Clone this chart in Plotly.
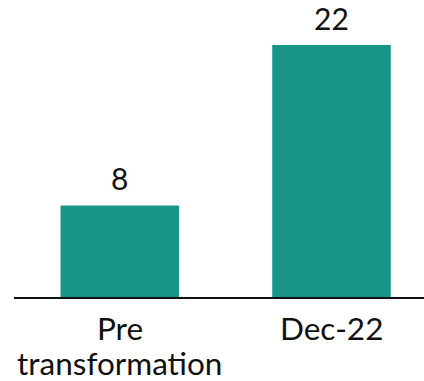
import plotly.graph_objects as go

categories = ["Pre<br>transformation", "Dec-22"]
values = [8, 22]

bar_color = "#1a9688"
text_color = "#111111"
font_family = "Lato, 'Open Sans', sans-serif"
font_size = 31.5
value_font_size = 30
line_step = 35

fig = go.Figure(
    go.Bar(
        x=categories,
        y=values,
        marker=dict(color=bar_color, line=dict(width=0)),
        width=0.56,
        hoverinfo="skip",
    )
)

# value labels above each bar
for cat, val in zip(categories, values):
    fig.add_annotation(
        x=cat, y=val, text=str(val), showarrow=False,
        yanchor="bottom", yshift=8, borderpad=0,
        font=dict(family=font_family, size=value_font_size, color=text_color),
    )

# category labels under the axis, one annotation per line for tight leading
for cat in categories:
    for i, line in enumerate(cat.split("<br>")):
        fig.add_annotation(
            x=cat, xref="x", y=0, yref="paper", text=line, showarrow=False,
            yanchor="middle", yshift=-31 - i * line_step, borderpad=0,
            font=dict(family=font_family, size=font_size, color=text_color),
        )

fig.update_layout(
    width=424, height=381,
    margin=dict(l=14, r=0, t=0, b=84),
    paper_bgcolor="white", plot_bgcolor="white",
    showlegend=False,
    font=dict(family=font_family, size=font_size, color=text_color),
    xaxis=dict(
        range=[-0.5, 1.437],
        showline=True, linecolor=text_color, linewidth=2,
        ticks="", showticklabels=False, showgrid=False, zeroline=False,
    ),
    yaxis=dict(
        range=[0, 25.94], visible=False, showgrid=False, zeroline=False,
    ),
)

fig.write_html("out.html")
